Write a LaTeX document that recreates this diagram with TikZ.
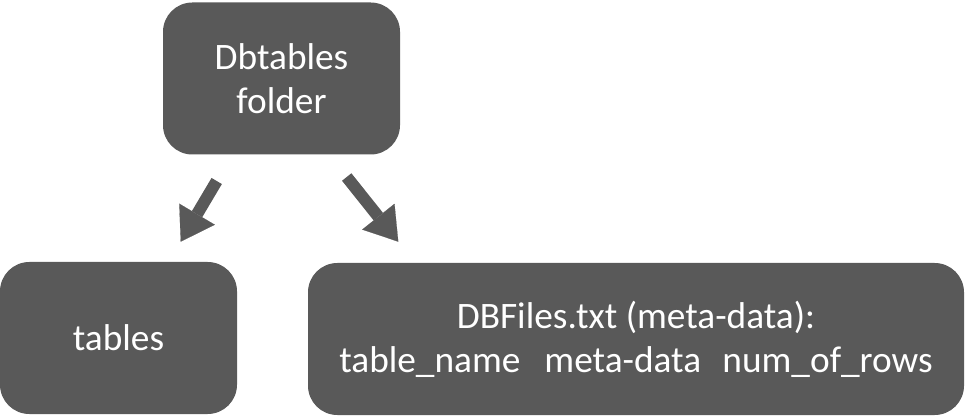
\documentclass[tikz,border=0pt]{standalone}
\usepackage{fontspec}
\setmainfont{Carlito}
\usetikzlibrary{arrows.meta,positioning}
\definecolor{boxgray}{HTML}{595959}

\begin{document}
\begin{tikzpicture}[
  x=0.75pt, y=-0.75pt,
  box/.style={rectangle, fill=boxgray, text=white, minimum width=#1*0.75pt, minimum height=152*0.75pt, align=center,
    font=\fontsize{28}{33}\selectfont, rounded corners=22pt, inner sep=0pt},
  arr/.style={-{Triangle[length=24pt, width=31pt, line width=0.1pt]}, line width=9pt, boxgray}
]
  \useasboundingbox (0,0) rectangle (966,416);
  \node[box=237] (folder) at (281.5,78.5) {Dbtables\\folder};
  \node[box=237] (tables) at (118.5,338) {tables};
  \node[box=656] (dbfiles) at (636,339) {DBFiles.txt (meta-data):\\table\_name\hspace{18pt}meta-data\hspace{16pt}num\_of\_rows};

  \coordinate (lt) at (216.7,181);
  \coordinate (lh) at (180.7,241.7);
  \coordinate (rt) at (346.7,177);
  \coordinate (rh) at (398.3,241.7);

  \draw[arr] (lt) -- (lh);
  \draw[arr] (rt) -- (rh);
\end{tikzpicture}
\end{document}
